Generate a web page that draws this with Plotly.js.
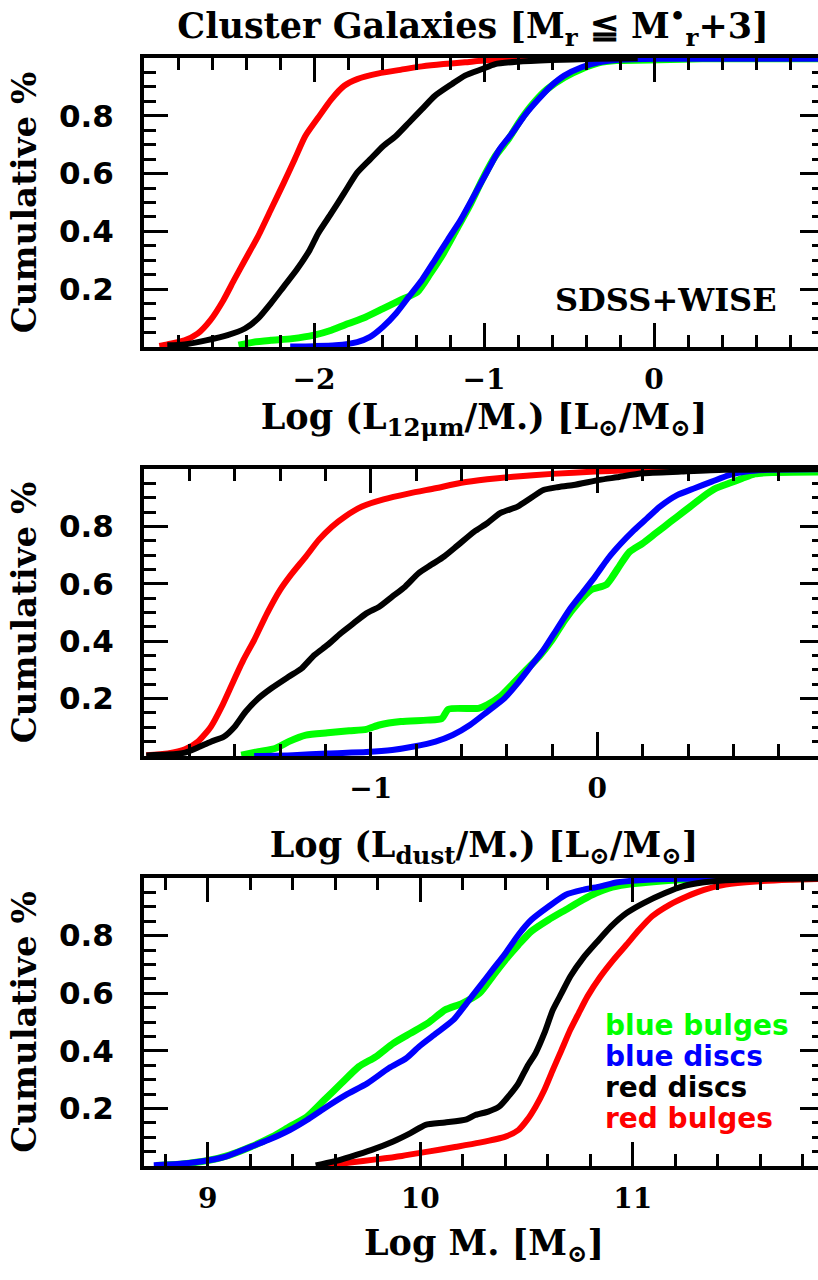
<!DOCTYPE html>
<html>
<head>
<meta charset="utf-8">
<script src="https://cdn.plot.ly/plotly-3.0.1.min.js"></script>
<style>
html,body{margin:0;padding:0;overflow:hidden;background:#fff;}
#chart{width:830px;height:1280px;}
</style>
</head>
<body>
<div id="chart"></div>
<script>
// ---------- Data ----------
const seriesNames = ['blue bulges', 'blue discs', 'red discs', 'red bulges'];
const seriesColors = ['#00ff00', '#0000ff', '#000000', '#ff0000'];

// Panel 1: Log (L12um / M*)
const p1GreenX = [-2.444,-2.355,-2.254,-2.127,-2.0,-1.898,-1.797,-1.695,-1.594,-1.492,-1.391,-1.315,-1.239,-1.162,-1.086,-1.010,-0.934,-0.858,-0.782,-0.706,-0.629,-0.528,-0.426,-0.325,-0.223,0.03,0.284,1.0];
const p1GreenY = [0.006,0.017,0.023,0.029,0.041,0.058,0.081,0.104,0.133,0.162,0.191,0.255,0.324,0.406,0.487,0.579,0.660,0.718,0.788,0.846,0.892,0.933,0.962,0.983,0.991,0.994,0.997,0.997];
const p1BlueX = [-2.140,-2.0,-1.873,-1.746,-1.670,-1.594,-1.518,-1.442,-1.365,-1.289,-1.213,-1.137,-1.061,-0.985,-0.909,-0.832,-0.756,-0.680,-0.604,-0.528,-0.426,-0.325,-0.223,0.030,1.0];
const p1BlueY = [0.002,0.003,0.006,0.017,0.035,0.070,0.116,0.174,0.232,0.301,0.371,0.440,0.521,0.603,0.684,0.742,0.805,0.857,0.904,0.939,0.968,0.985,0.993,0.997,0.997];
const p1BlackX = [-2.863,-2.761,-2.635,-2.508,-2.406,-2.330,-2.254,-2.178,-2.102,-2.025,-1.975,-1.898,-1.822,-1.746,-1.670,-1.594,-1.518,-1.442,-1.365,-1.289,-1.188,-1.112,-1.010,-0.934,-0.807,-0.604,-0.350,-0.096];
const p1BlackY = [0.006,0.009,0.023,0.041,0.064,0.098,0.151,0.209,0.267,0.336,0.394,0.463,0.533,0.603,0.649,0.695,0.730,0.776,0.823,0.869,0.910,0.939,0.962,0.979,0.987,0.993,0.997,0.999];
const p1RedX = [-2.91,-2.863,-2.761,-2.685,-2.609,-2.533,-2.470,-2.406,-2.330,-2.254,-2.178,-2.114,-2.051,-1.975,-1.898,-1.822,-1.746,-1.619,-1.492,-1.365,-1.239,-1.112,-0.985,-0.731,-0.477,-0.223];
const p1RedY = [0.004,0.009,0.023,0.046,0.093,0.162,0.232,0.301,0.382,0.475,0.568,0.649,0.730,0.794,0.857,0.904,0.927,0.947,0.959,0.971,0.979,0.985,0.992,0.997,0.999,1.0];

// Panel 2: Log (Ldust / M*)
const p2GreenX = [-1.571,-1.495,-1.419,-1.362,-1.286,-1.190,-1.095,-1.019,-0.962,-0.867,-0.752,-0.686,-0.657,-0.524,-0.486,-0.429,-0.371,-0.314,-0.257,-0.2,-0.143,-0.086,-0.029,0.038,0.067,0.105,0.143,0.2,0.257,0.295,0.352,0.410,0.467,0.524,0.581,0.638,0.695,0.771,1.0];
const p2GreenY = [0.003,0.015,0.027,0.050,0.073,0.081,0.088,0.093,0.108,0.120,0.125,0.131,0.163,0.166,0.178,0.207,0.253,0.300,0.346,0.404,0.474,0.532,0.578,0.596,0.625,0.671,0.712,0.741,0.776,0.799,0.834,0.869,0.904,0.933,0.950,0.967,0.983,0.988,0.99];
const p2BlueX = [-1.514,-1.343,-1.190,-1.019,-0.905,-0.810,-0.714,-0.638,-0.562,-0.486,-0.410,-0.352,-0.295,-0.238,-0.181,-0.124,-0.067,-0.010,0.048,0.105,0.162,0.219,0.276,0.352,0.429,0.505,0.581,0.657,0.752,1.0];
const p2BlueY = [0.0,0.003,0.009,0.014,0.021,0.033,0.050,0.073,0.108,0.154,0.201,0.253,0.311,0.369,0.439,0.509,0.567,0.625,0.689,0.741,0.787,0.828,0.869,0.909,0.933,0.956,0.979,0.991,0.997,0.999];
const p2BlackX = [-1.990,-1.895,-1.819,-1.762,-1.705,-1.648,-1.6,-1.552,-1.495,-1.438,-1.362,-1.305,-1.248,-1.190,-1.133,-1.076,-1.019,-0.962,-0.905,-0.848,-0.790,-0.733,-0.676,-0.619,-0.543,-0.486,-0.429,-0.352,-0.295,-0.238,-0.181,-0.105,0.010,0.086,0.2,0.371,0.562,1.0];
const p2BlackY = [0.002,0.005,0.012,0.030,0.050,0.067,0.102,0.154,0.201,0.236,0.276,0.305,0.352,0.387,0.427,0.462,0.497,0.520,0.555,0.590,0.636,0.666,0.695,0.732,0.782,0.811,0.846,0.869,0.898,0.927,0.936,0.944,0.962,0.971,0.985,0.991,0.997,1.0];
const p2RedX = [-1.990,-1.895,-1.819,-1.762,-1.705,-1.657,-1.610,-1.562,-1.514,-1.457,-1.400,-1.352,-1.286,-1.229,-1.171,-1.114,-1.038,-0.943,-0.829,-0.714,-0.6,-0.486,-0.371,-0.2,-0.01,0.181,0.467,1.0];
const p2RedY = [0.003,0.009,0.023,0.050,0.102,0.172,0.253,0.334,0.404,0.497,0.578,0.631,0.695,0.753,0.799,0.834,0.869,0.894,0.915,0.933,0.952,0.964,0.973,0.983,0.991,0.997,1.0,1.0];

// Panel 3: Log M*
const p3GreenX = [8.756,8.878,9.0,9.102,9.203,9.305,9.386,9.467,9.548,9.629,9.711,9.792,9.873,9.954,10.036,10.117,10.198,10.279,10.340,10.401,10.462,10.523,10.604,10.685,10.766,10.827,10.888,10.970,11.071,11.234,11.9];
const p3GreenY = [0.002,0.007,0.019,0.038,0.067,0.102,0.137,0.171,0.229,0.287,0.345,0.380,0.426,0.461,0.496,0.542,0.565,0.600,0.658,0.716,0.768,0.815,0.855,0.890,0.925,0.948,0.965,0.977,0.985,0.994,0.998];
const p3BlueX = [8.746,8.858,8.959,9.081,9.183,9.284,9.386,9.467,9.548,9.650,9.751,9.853,9.934,9.995,10.076,10.157,10.218,10.279,10.340,10.401,10.462,10.523,10.604,10.685,10.766,10.848,10.929,11.030,11.234,11.9];
const p3BlueY = [0.003,0.007,0.015,0.032,0.061,0.090,0.125,0.160,0.200,0.247,0.287,0.340,0.374,0.415,0.461,0.508,0.565,0.623,0.681,0.739,0.803,0.855,0.901,0.942,0.959,0.971,0.985,0.992,0.997,0.998];
const p3BlackX = [9.508,9.589,9.670,9.772,9.873,9.954,10.025,10.117,10.218,10.259,10.320,10.371,10.421,10.462,10.503,10.543,10.584,10.624,10.665,10.706,10.766,10.827,10.898,10.970,11.051,11.152,11.234,11.335,11.437,11.640,11.9];
const p3BlackY = [0.002,0.015,0.032,0.056,0.085,0.114,0.143,0.151,0.162,0.177,0.189,0.206,0.247,0.287,0.345,0.392,0.461,0.542,0.600,0.658,0.722,0.774,0.832,0.878,0.913,0.948,0.971,0.985,0.992,0.997,0.998];
const p3RedX = [9.548,9.670,9.792,9.914,10.036,10.157,10.279,10.401,10.462,10.503,10.543,10.584,10.624,10.665,10.706,10.746,10.787,10.848,10.909,10.970,11.030,11.091,11.173,11.254,11.335,11.437,11.579,11.741,11.9];
const p3RedY = [0.0,0.012,0.023,0.035,0.050,0.065,0.081,0.102,0.125,0.160,0.206,0.264,0.334,0.403,0.473,0.531,0.589,0.658,0.716,0.768,0.820,0.867,0.907,0.936,0.959,0.977,0.988,0.994,0.997];

// Tick labels
const p1TickVals = [-2, -1, 0];
const p2TickVals = [-1, 0];
const p3TickVals = [9, 10, 11];
const yTickVals = [0.2, 0.4, 0.6, 0.8];
const yTickText = ['0.2', '0.4', '0.6', '0.8'];

// ---------- Build ----------
const W = 830, H = 1280;
const panels = [
  {xs:[p1GreenX,p1BlueX,p1RedX,p1BlackX], ys:[p1GreenY,p1BlueY,p1RedY,p1BlackY], order:[0,1,3,2]},
  {xs:[p2GreenX,p2BlueX,p2RedX,p2BlackX], ys:[p2GreenY,p2BlueY,p2RedY,p2BlackY], order:[0,1,3,2]},
  {xs:[p3GreenX,p3BlueX,p3RedX,p3BlackX], ys:[p3GreenY,p3BlueY,p3RedY,p3BlackY], order:[0,1,3,2]}
];
const traces = [];
panels.forEach((p, i) => {
  const sx = i === 0 ? '' : String(i + 1);
  p.xs.forEach((xv, k) => {
    const si = p.order[k];
    traces.push({
      type: 'scatter', mode: 'lines', x: xv, y: p.ys[k],
      name: seriesNames[si],
      line: {color: seriesColors[si], width: si === 0 ? 7 : 6, shape: 'spline', smoothing: 0.6},
      xaxis: 'x' + sx, yaxis: 'y' + sx, showlegend: false, hoverinfo: 'skip'
    });
  });
});

const px = v => v / W;
const py = v => 1 - v / H;
const serif = 'DejaVu Serif, Liberation Serif, serif';
const sans = 'DejaVu Sans, Liberation Sans, Arial, sans-serif';

function xax(range, tickvals, titleText, anchor, standoff) {
  return {
    domain: [px(144), px(824)], range: range, anchor: anchor,
    tickmode: 'array', tickvals: tickvals,
    ticks: 'inside', ticklen: 24, tickwidth: 3, tickcolor: '#000',
    minor: {dtick: 0.2, tick0: 0, ticks: 'inside', ticklen: 12, tickwidth: 3, tickcolor: '#000'},
    showline: true, linewidth: 4, linecolor: '#000', mirror: 'allticks',
    showgrid: false, zeroline: false,
    tickfont: {family: serif, size: 28, color: '#000', weight: 'bold'},
    ticklabelstandoff: 4,
    title: {text: titleText, font: {family: serif, size: 35, color: '#000', weight: 'bold'}, standoff: standoff}
  };
}
function yax(domainTopBot, anchor) {
  return {
    domain: [py(domainTopBot[1]), py(domainTopBot[0])], range: [0, 1], anchor: anchor,
    tickmode: 'array', tickvals: yTickVals, ticktext: yTickText,
    ticks: 'inside', ticklen: 24, tickwidth: 3, tickcolor: '#000',
    minor: {dtick: 0.05, tick0: 0, ticks: 'inside', ticklen: 12, tickwidth: 3, tickcolor: '#000'},
    showline: true, linewidth: 4, linecolor: '#000', mirror: 'allticks',
    showgrid: false, zeroline: false,
    tickfont: {family: sans, size: 31, color: '#000', weight: 'bold'},
    ticklabelstandoff: 20,
    title: {text: 'Cumulative %', font: {family: serif, size: 34, color: '#000', weight: 'bold'}, standoff: 13}
  };
}

const layout = {
  width: W, height: H,
  margin: {l: 0, r: 0, t: 0, b: 0},
  paper_bgcolor: '#fff', plot_bgcolor: 'rgba(0,0,0,0)',
  showlegend: false,
  title: {
    text: 'Cluster Galaxies [M<sub>r</sub> ≦ M<sup>•</sup><sub>r</sub>+3]',
    font: {family: serif, size: 35, color: '#000', weight: 'bold'},
    xref: 'container', yref: 'container', x: 473 / W, y: py(26), xanchor: 'center', yanchor: 'middle'
  },
  xaxis: xax([-3, 1], p1TickVals, 'Log (L<sub>12μm</sub>/M.) [L<sub>⊙</sub>/M<sub>⊙</sub>]', 'y', 2),
  yaxis: yax([58, 347], 'x'),
  xaxis2: xax([-2, 1], p2TickVals, 'Log (L<sub>dust</sub>/M.) [L<sub>⊙</sub>/M<sub>⊙</sub>]', 'y2', 30),
  yaxis2: yax([469, 756], 'x2'),
  xaxis3: xax([8.7, 11.9], p3TickVals, 'Log M. [M<sub>⊙</sub>]', 'y3', 18),
  yaxis3: yax([878, 1166], 'x3'),
  annotations: [
    {text: 'SDSS+WISE', xref: 'paper', yref: 'paper', x: px(666), y: py(300), xanchor: 'center', yanchor: 'middle',
     showarrow: false, font: {family: serif, size: 32, color: '#000', weight: 'bold'}}
  ]
};
const legendY = [1025, 1056, 1087, 1118];
seriesNames.forEach((n, i) => {
  layout.annotations.push({
    text: n, xref: 'paper', yref: 'paper', x: px(603), y: py(legendY[i]), xanchor: 'left', yanchor: 'middle',
    showarrow: false, font: {family: sans, size: 28, color: seriesColors[i], weight: 'bold'}
  });
});

Plotly.newPlot('chart', traces, layout, {staticPlot: true, displayModeBar: false});
</script>
</body>
</html>
